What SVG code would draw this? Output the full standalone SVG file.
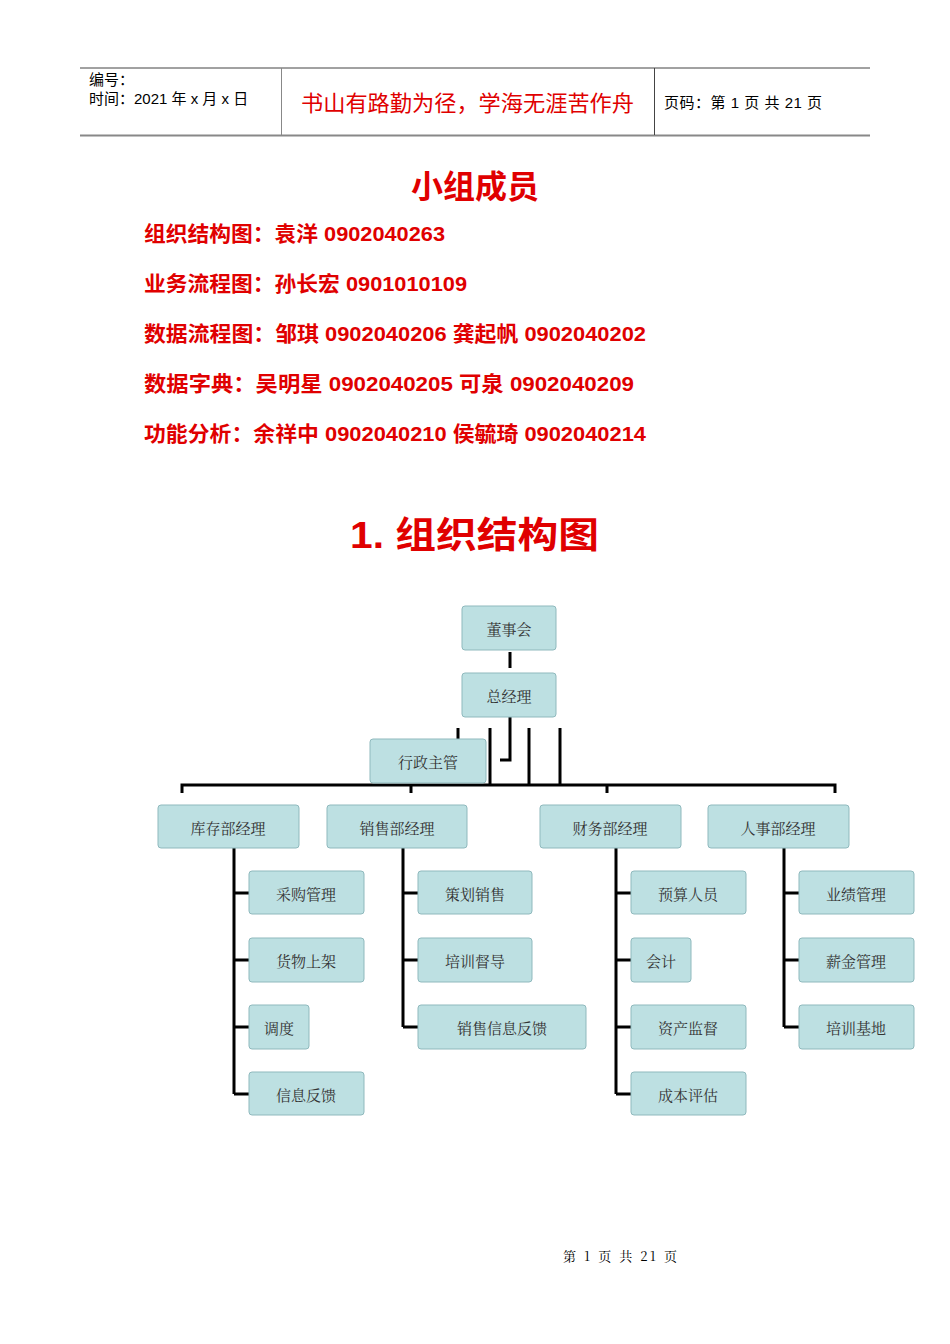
<svg xmlns="http://www.w3.org/2000/svg" width="950" height="1344" viewBox="0 0 950 1344">
<style>
.b{fill:#bde0e2;stroke:#8fb9bd;stroke-width:1}
.t{font-family:"Noto Serif CJK SC","Noto Sans CJK SC",serif;font-size:15px;fill:#333;text-anchor:middle;dominant-baseline:central}
.c{stroke:#000;stroke-width:3;fill:none}
.r{font-family:"Liberation Sans","Noto Sans CJK SC",sans-serif;font-weight:bold;fill:#e00000;font-size:21px}
.h{font-family:"Liberation Sans","Noto Sans CJK SC",sans-serif;font-size:15px;fill:#000}
</style>
<rect width="950" height="1344" fill="#fff"/>
<g id="header">
<line x1="80" y1="68" x2="870" y2="68" stroke="#444"/>
<line x1="80" y1="135.5" x2="870" y2="135.5" stroke="#888" stroke-width="2"/>
<line x1="281.5" y1="68" x2="281.5" y2="135" stroke="#888"/>
<line x1="654.5" y1="68" x2="654.5" y2="135" stroke="#444"/>
<text class="h" x="89" y="85">编号：</text>
<text class="h" x="89" y="104">时间：2021 年 x 月 x 日</text>
<text x="301" y="111" textLength="333" lengthAdjust="spacingAndGlyphs" font-family="Noto Sans CJK SC,sans-serif" font-size="22" fill="#e00000">书山有路勤为径，学海无涯苦作舟</text>
<text class="h" x="664" y="108" textLength="158">页码：第 1 页  共 21 页</text>
</g>
<text x="475" y="198" text-anchor="middle" class="r" style="font-size:32px">小组成员</text>
<text class="r" x="144" y="241" textLength="301" lengthAdjust="spacingAndGlyphs">组织结构图：袁洋  0902040263</text>
<text class="r" x="144" y="291" textLength="323" lengthAdjust="spacingAndGlyphs">业务流程图：孙长宏  0901010109</text>
<text class="r" x="144" y="341" textLength="502" lengthAdjust="spacingAndGlyphs">数据流程图：邹琪  0902040206  龚起帆  0902040202</text>
<text class="r" x="144" y="391" textLength="490" lengthAdjust="spacingAndGlyphs">数据字典：吴明星  0902040205    可泉  0902040209</text>
<text class="r" x="144" y="441" textLength="502" lengthAdjust="spacingAndGlyphs">功能分析：余祥中  0902040210  侯毓琦  0902040214</text>
<text x="350" y="548" class="r" style="font-size:36px" textLength="249" lengthAdjust="spacingAndGlyphs">1.  组织结构图</text>
<g id="connectors">
<path class="c" d="M510 652V668M510 717V760H500M458 728V740M490 728V785M529 728V785M560 728V785M182 793V785H835V793M411 785V793M607 785V793M835 785V793"/>
<path class="c" d="M234 848V1094M234 893H249M234 960H249M234 1027H249M234 1094H249"/>
<path class="c" d="M403 848V1027M403 893H418M403 960H418M403 1027H418"/>
<path class="c" d="M616 848V1094M616 893H631M616 960H631M616 1027H631M616 1094H631"/>
<path class="c" d="M784 848V1027M784 893H799M784 960H799M784 1027H799"/>
</g>
<g id="n1"><rect class="b" x="462" y="606" width="94" height="44" rx="3"/><text class="t" x="509" y="628">董事会</text></g>
<g id="n2"><rect class="b" x="462" y="673" width="94" height="44" rx="3"/><text class="t" x="509" y="695">总经理</text></g>
<g id="n3"><rect class="b" x="370" y="739" width="116" height="44" rx="3"/><text class="t" x="428" y="761">行政主管</text></g>
<g id="d1"><rect class="b" x="158" y="805" width="141" height="43" rx="3"/><text class="t" x="228" y="827">库存部经理</text></g>
<g id="d2"><rect class="b" x="327" y="805" width="140" height="43" rx="3"/><text class="t" x="397" y="827">销售部经理</text></g>
<g id="d3"><rect class="b" x="540" y="805" width="141" height="43" rx="3"/><text class="t" x="610" y="827">财务部经理</text></g>
<g id="d4"><rect class="b" x="708" y="805" width="141" height="43" rx="3"/><text class="t" x="778" y="827">人事部经理</text></g>
<g id="a1"><rect class="b" x="249" y="871" width="115" height="43" rx="3"/><text class="t" x="306" y="893">采购管理</text></g>
<g id="a2"><rect class="b" x="249" y="938" width="115" height="44" rx="3"/><text class="t" x="306" y="960">货物上架</text></g>
<g id="a3"><rect class="b" x="249" y="1005" width="60" height="44" rx="3"/><text class="t" x="279" y="1027">调度</text></g>
<g id="a4"><rect class="b" x="249" y="1072" width="115" height="43" rx="3"/><text class="t" x="306" y="1094">信息反馈</text></g>
<g id="b1"><rect class="b" x="418" y="871" width="114" height="43" rx="3"/><text class="t" x="475" y="893">策划销售</text></g>
<g id="b2"><rect class="b" x="418" y="938" width="114" height="44" rx="3"/><text class="t" x="475" y="960">培训督导</text></g>
<g id="b3"><rect class="b" x="418" y="1005" width="168" height="44" rx="3"/><text class="t" x="502" y="1027">销售信息反馈</text></g>
<g id="c1"><rect class="b" x="631" y="871" width="115" height="43" rx="3"/><text class="t" x="688" y="893">预算人员</text></g>
<g id="c2"><rect class="b" x="631" y="938" width="60" height="44" rx="3"/><text class="t" x="661" y="960">会计</text></g>
<g id="c3"><rect class="b" x="631" y="1005" width="115" height="44" rx="3"/><text class="t" x="688" y="1027">资产监督</text></g>
<g id="c4"><rect class="b" x="631" y="1072" width="115" height="43" rx="3"/><text class="t" x="688" y="1094">成本评估</text></g>
<g id="e1"><rect class="b" x="799" y="871" width="115" height="43" rx="3"/><text class="t" x="856" y="893">业绩管理</text></g>
<g id="e2"><rect class="b" x="799" y="938" width="115" height="44" rx="3"/><text class="t" x="856" y="960">薪金管理</text></g>
<g id="e3"><rect class="b" x="799" y="1005" width="115" height="44" rx="3"/><text class="t" x="856" y="1027">培训基地</text></g>
<text x="563" y="1261" textLength="114" font-family="Noto Serif CJK SC,Noto Sans CJK SC,serif" font-size="13" fill="#000">第 1 页 共 21 页</text>
</svg>
